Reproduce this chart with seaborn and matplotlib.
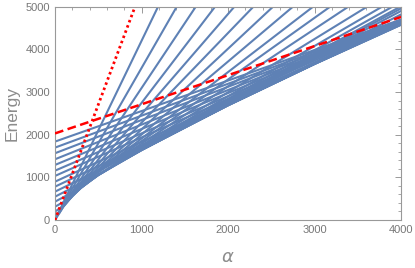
import matplotlib
matplotlib.use("Agg")
import matplotlib.pyplot as plt
from matplotlib.ticker import MultipleLocator
import seaborn as sns
import pandas as pd

# lowest level (lower edge of the band)
low_alpha = [0, 100, 200, 300, 400, 500, 700, 1000, 1500, 2000, 3000, 4000]
low_energy = [0, 320, 560, 750, 910, 1050, 1300, 1636, 2176, 2686, 3656, 4576]

# low levels that run into the lower edge and then follow it
bent_alpha = [
    [0, 45, 100, 200, 300, 500, 1000, 2000, 3000, 4000],
    [0, 100, 200, 300, 500, 1000, 2000, 3000, 4000],
    [0, 180, 300, 500, 1000, 2000, 3000, 4000],
    [0, 300, 500, 700, 1000, 2000, 3000, 4000],
    [0, 550, 700, 1000, 2000, 3000, 4000],
    [0, 1000, 1500, 2000, 3000, 4000],
]
bent_energy = [
    [100, 152, 330, 566, 755, 1054, 1639, 2688, 3658, 4580],
    [200, 326, 570, 760, 1058, 1642, 2691, 3661, 4585],
    [312, 512, 764, 1061, 1645, 2694, 3664, 4590],
    [430, 755, 1063, 1313, 1648, 2697, 3667, 4597],
    [547, 1115, 1315, 1651, 2701, 3671, 4604],
    [665, 1655, 2200, 2710, 3680, 4612],
]

# flat levels: value at alpha=0 and at alpha=4000
flat_start = [1838, 1697, 1565, 1424, 1291, 1157, 1033, 899, 782]
flat_end = [4700, 4690, 4680, 4670, 4660, 4650, 4640, 4630, 4620]

# steep levels: where they leave the band, and alpha where they leave the top
steep_from_alpha = [0, 0, 100, 100, 200, 200, 300, 300, 400, 400, 500, 600, 700, 800, 900]
steep_from_energy = [0, 30, 354, 355, 608, 600, 797, 803, 974, 980, 1120, 1250, 1366, 1479, 1584]
steep_top = [1191, 1407, 1627, 1850, 2073, 2293, 2520, 2750, 2983, 3180, 3390, 3607, 3780, 3900, 3990]

# steep levels ending on the right edge
side_from_alpha = [1000, 1000, 1000]
side_from_energy = [1705, 1705, 1700]
side_end = [4960, 4900, 4820]

# red guide lines
dotted_alpha = [0, 925]
dotted_energy = [0, 5000]
dashed_alpha = [0, 4000]
dashed_energy = [2030, 4760]

blue = "#5E81B5"
gray = "#8c8c8c"

rows = []
cid = 0
for a, e in zip(low_alpha, low_energy):
    rows.append((cid, a, e))
cid += 1
for xs, ys in zip(bent_alpha, bent_energy):
    for a, e in zip(xs, ys):
        rows.append((cid, a, e))
    cid += 1
for s, e in zip(flat_start, flat_end):
    rows.append((cid, 0, s))
    rows.append((cid, 4000, e))
    cid += 1
for a0, e0, t in zip(steep_from_alpha, steep_from_energy, steep_top):
    rows.append((cid, a0, e0))
    rows.append((cid, t, 5000))
    cid += 1
for a0, e0, e in zip(side_from_alpha, side_from_energy, side_end):
    rows.append((cid, a0, e0))
    rows.append((cid, 4000, e))
    cid += 1
df = pd.DataFrame(rows, columns=["curve", "alpha", "energy"])

sns.set_style("white")
plt.rcParams["font.family"] = ["Liberation Sans", "DejaVu Sans"]

fig = plt.figure(figsize=(4.15, 2.68), dpi=100)
ax = fig.add_axes([0.1325, 0.179, 0.834, 0.796])

sns.lineplot(data=df, x="alpha", y="energy", units="curve", estimator=None,
             sort=False, color=blue, lw=1.5, ax=ax)
sns.lineplot(x=dotted_alpha, y=dotted_energy, color="red", lw=2.0,
             linestyle=(0, (0.9, 1.1)), ax=ax, zorder=5)
sns.lineplot(x=dashed_alpha, y=dashed_energy, color="red", lw=1.8,
             linestyle=(0, (3.5, 1.8)), ax=ax, zorder=5)

ax.set_xlim(0, 4000)
ax.set_ylim(0, 5000)
ax.xaxis.set_major_locator(MultipleLocator(1000))
ax.xaxis.set_minor_locator(MultipleLocator(200))
ax.yaxis.set_major_locator(MultipleLocator(1000))
ax.yaxis.set_minor_locator(MultipleLocator(200))
ax.tick_params(which="both", direction="in", top=True, right=True,
               colors="#999999", labelcolor="#777777", labelsize=8)
ax.tick_params(which="major", length=4, width=0.7)
ax.tick_params(which="minor", length=2.2, width=0.6)
for sp in ax.spines.values():
    sp.set_color("#999999")
    sp.set_linewidth(0.8)

ax.set_xlabel(r"$\alpha$", fontsize=13, color=gray, labelpad=10)
ax.set_ylabel("Energy", fontsize=12.5, color=gray, labelpad=4)

fig.savefig("out.png", dpi=100)
